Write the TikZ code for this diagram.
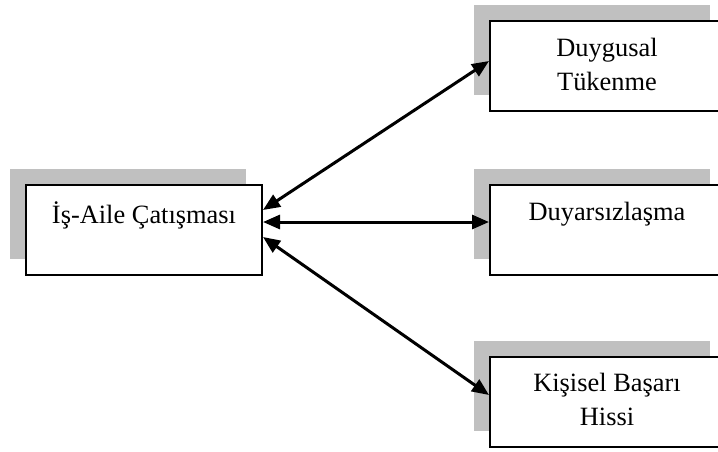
\documentclass[tikz,border=0pt]{standalone}
\usepackage{fontspec}
\setmainfont{Liberation Serif}
\usepackage{xcolor}
\definecolor{shadowgray}{RGB}{192,192,192}
\usetikzlibrary{arrows.meta, shadows}

\begin{document}
\begin{tikzpicture}[
    x=0.5pt, y=-0.5pt,
    factorbox/.style={rectangle, draw=black, line width=1pt, fill=white,
                      minimum width=118pt, minimum height=45pt, inner sep=0pt,
                      drop shadow={shadow xshift=-8pt, shadow yshift=8pt,
                                   fill=shadowgray, opacity=1}},
    boxtext/.style={font=\fontsize{13.2}{17}\selectfont, align=center, anchor=base, inner sep=0pt},
    linkarrow/.style={{Triangle[length=8.5pt, width=7pt]}-{Triangle[length=8.5pt, width=7pt]},
                      line width=1.5pt, black},
  ]
    \useasboundingbox (0,0) rectangle (718,451);

    % --- Boxes ---
    \node[factorbox] (isaile)   at (144,230) {};
    \node[factorbox] (tukenme)  at (608,66)  {};
    \node[factorbox] (duyarsiz) at (608,230) {};
    \node[factorbox] (basari)   at (608,402) {};

    % --- Texts (base = last line) ---
    \node[boxtext] (isaile-t)   at (144,223) {İş-Aile Çatışması};
    \node[boxtext] (tukenme-t)  at (607,90)  {Duygusal\\Tükenme};
    \node[boxtext] (duyarsiz-t) at (607,220) {Duyarsızlaşma};
    \node[boxtext] (basari-t)   at (607,425) {Kişisel Başarı\\Hissi};

    % --- Connectors ---
    \draw[linkarrow] ([yshift=10pt]isaile.east) -- ([yshift=2.5pt]tukenme.west);
    \draw[linkarrow] ([yshift=4pt]isaile.east) -- ([yshift=4pt]duyarsiz.west);
    \draw[linkarrow] ([yshift=-3.5pt]isaile.east) -- ([yshift=3.5pt]basari.west);
  \end{tikzpicture}
\end{document}
